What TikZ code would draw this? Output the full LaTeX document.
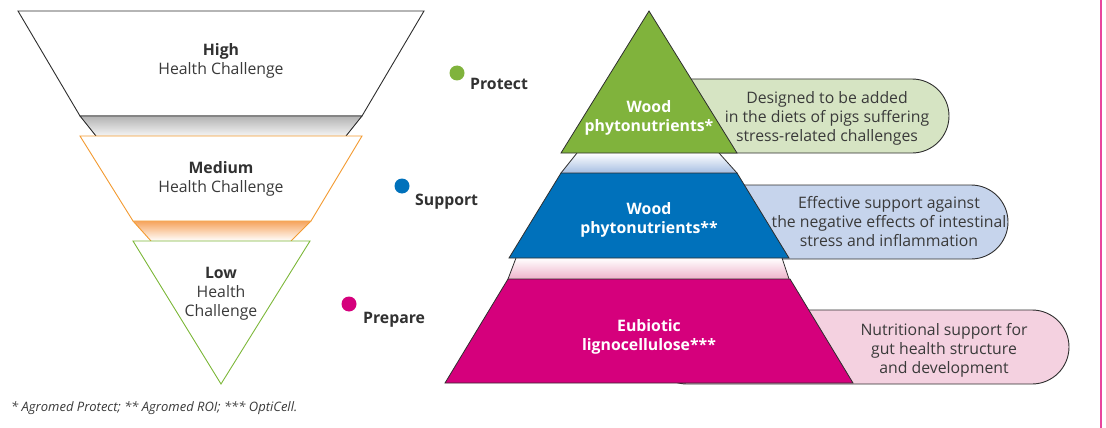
\documentclass[tikz,border=0pt]{standalone}
\usepackage{fontspec}
\setmainfont{Open Sans}
\definecolor{txtgray}{HTML}{3A3A3A}
\definecolor{darkline}{HTML}{2E2E2E}
\definecolor{pgreen}{HTML}{80B33C}
\definecolor{pblue}{HTML}{0071BB}
\definecolor{pmag}{HTML}{D5007C}
\definecolor{cgreen}{HTML}{D6E4C3}
\definecolor{cblue}{HTML}{C6D4EC}
\definecolor{cpink}{HTML}{F4D1E0}
\definecolor{forange}{HTML}{F39A30}
\definecolor{fgreen}{HTML}{7DB83A}
\definecolor{bandorange}{HTML}{F6A35C}
\definecolor{bandblue}{HTML}{A6BEE2}
\definecolor{bandpink}{HTML}{EEB3CA}
\definecolor{edgepink}{HTML}{E8459E}
\begin{document}
\begin{tikzpicture}[x=1pt,y=-1pt,
  txt/.style={font=\fontsize{15.8}{19}\selectfont, text=txtgray, align=center, inner sep=0pt},
  whitetxt/.style={font=\fontsize{15.8}{19}\selectfont\bfseries, text=white, align=center, inner sep=0pt},
  callout/.style={draw=darkline, line width=0.9pt, rounded corners=37pt},
  tier/.style={draw=darkline, line width=0.8pt},
  dotmark/.style={circle, inner sep=0pt, minimum size=15pt},
  lbl/.style={font=\fontsize{15.8}{19}\selectfont\bfseries, text=txtgray!85!black, anchor=west, inner sep=0pt}
]
\path[use as bounding box] (0,0) rectangle (1106,428);

% right pink rule
\draw[edgepink, line width=1.2pt] (1101,0) -- (1101,428);

% ---------- left funnel ----------
\filldraw[fill=white, draw=darkline, line width=0.9pt] (18,11) -- (424,11) -- (362,116) -- (80,116) -- cycle;
\shade[top color=gray!60, bottom color=gray!8] (80,116) -- (362,116) -- (346,136) -- (96,136) -- cycle;
\draw[darkline, line width=0.9pt] (96,136) -- (80,116) -- (362,116) -- (346,136);
\shade[top color=bandorange, bottom color=white] (133,221) -- (311,221) -- (291,241) -- (151,241) -- cycle;
\draw[forange, line width=0.9pt] (151,241) -- (133,221) (311,221) -- (291,241);
\filldraw[fill=white, draw=forange, line width=0.9pt] (80,136) -- (362,136) -- (311,221) -- (133,221) -- cycle;
\filldraw[fill=white, draw=fgreen, line width=0.9pt] (133,241) -- (310,241) -- (221,384) -- cycle;

\node[txt] (high) at (221,61) {{\bfseries\color{txtgray!85!black}High}\\Health Challenge};
\node[txt] (medium) at (221,179) {{\bfseries\color{txtgray!85!black}Medium}\\Health Challenge};
\node[txt] (low) at (221,294) {{\bfseries\color{txtgray!85!black}Low}\\Health\\Challenge};

\node[font=\fontsize{13}{15}\selectfont\itshape, text=txtgray, anchor=west, inner sep=0pt] (foot) at (11,408) {* Agromed Protect; ** Agromed ROI; *** OptiCell.};

% ---------- legend dots ----------
\node[dotmark, fill=pgreen] (dg) at (457,73) {};
\node[lbl] (protect) at (470,84) {Protect};
\node[dotmark, fill=pblue] (db) at (402,186) {};
\node[lbl] (support) at (415,202) {Support};
\node[dotmark, fill=pmag] (dm) at (349,304) {};
\node[lbl] (prepare) at (363,320) {Prepare};

% ---------- callouts (behind pyramid) ----------
\filldraw[callout, fill=cgreen] (650,79) -| (949,153) -- (650,153) -- cycle;
\filldraw[callout, fill=cblue] (650,185) -| (1008,259) -- (650,259) -- cycle;
\filldraw[callout, fill=cpink] (650,310) -| (1069,384) -- (650,384) -- cycle;

% ---------- pyramid ----------
\shade[top color=white, bottom color=bandblue] (577,153) -- (719,153) -- (737,173) -- (561,173) -- cycle;
\draw[darkline, line width=0.8pt] (577,153) -- (561,173) (719,153) -- (737,173);
\shade[top color=white, bottom color=bandpink] (516,258) -- (782,258) -- (789,279) -- (508,279) -- cycle;
\draw[darkline, line width=0.8pt] (516,258) -- (508,279) (782,258) -- (789,279);

\filldraw[tier, fill=pgreen] (649,11) -- (737,153) -- (561,153) -- cycle;
\filldraw[tier, fill=pblue] (561,173) -- (737,173) -- (789,258) -- (509,258) -- cycle;
\filldraw[tier, fill=pmag] (508,279) -- (790,279) -- (853,383) -- (445,383) -- cycle;

\node[whitetxt] (t1) at (649,118) {Wood\\phytonutrients*};
\node[whitetxt] (t2) at (649,220) {Wood\\phytonutrients**};
\node[whitetxt] (t3) at (649,337) {Eubiotic\\lignocellulose***};

\node[txt] (c1) at (827,118) {Designed to be added\\in the diets of pigs suffering\\stress-related challenges};
\node[txt] (c2) at (889,222) {Effective support against\\the negative effects of intestinal\\stress and inflammation};
\node[txt] (c3) at (944,350) {Nutritional support for\\gut health structure\\and development};
\end{tikzpicture}
\end{document}
